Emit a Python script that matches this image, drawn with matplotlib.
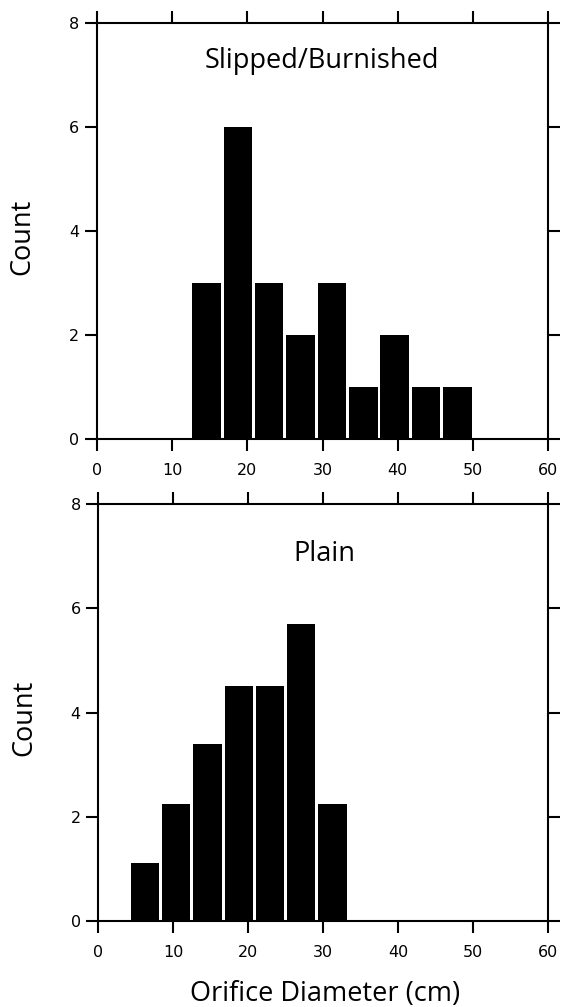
import matplotlib
matplotlib.use("Agg")
import matplotlib.pyplot as plt

# Orifice diameter histograms (cm); bins are 25/6 cm wide
bin_width = 25 / 6
slipped_left_edges = [12.5, 16.67, 20.83, 25.0, 29.17, 33.33, 37.5, 41.67, 45.83]
slipped_counts = [3, 6, 3, 2, 3, 1, 2, 1, 1]
plain_left_edges = [4.17, 8.33, 12.5, 16.67, 20.83, 25.0, 29.17]
plain_counts = [1.1, 2.25, 3.4, 4.5, 4.5, 5.7, 2.25]

x_ticks = [0, 10, 20, 30, 40, 50, 60]
y_ticks = [0, 2, 4, 6, 8]

label_font = "Open Sans"
tick_font = "DejaVu Sans"

fig = plt.figure(figsize=(5.63, 10.07), dpi=100)
ax_top = fig.add_axes([0.1718, 0.5641, 0.8021, 0.4134])
ax_bot = fig.add_axes([0.1746, 0.0857, 0.7982, 0.4135])


def draw_panel(ax, edges, counts, title, title_x, title_y):
    centers = [e + bin_width / 2 for e in edges]
    ax.bar(centers, counts, width=bin_width * 0.91, color="black",
           linewidth=0, zorder=1)
    ax.set_xlim(0, 60)
    ax.set_ylim(0, 8)
    ax.set_xticks(x_ticks)
    ax.set_yticks(y_ticks)
    for s in ax.spines.values():
        s.set_linewidth(1.5)
        s.set_color("black")
    ax.tick_params(direction="out", length=8.6, width=1.5, colors="black",
                   top=True, right=True, labeltop=False, labelright=False,
                   labelsize=11.5)
    ax.tick_params(axis="x", pad=9)
    ax.tick_params(axis="y", pad=4)
    for lab in ax.get_xticklabels() + ax.get_yticklabels():
        lab.set_fontfamily(tick_font)
    ax.text(title_x, title_y, title, transform=ax.transAxes, ha="center",
            va="baseline", fontsize=19.5, family=label_font)
    ax.text(-0.164, 0.486, "Count", transform=ax.transAxes, rotation=90,
            ha="center", va="center", fontsize=19.5, family=label_font)


draw_panel(ax_top, slipped_left_edges, slipped_counts, "Slipped/Burnished", 0.498, 0.891)
draw_panel(ax_bot, plain_left_edges, plain_counts, "Plain", 0.502, 0.8646)

fig.text(0.578, 0.006, "Orifice Diameter (cm)", ha="center", va="baseline",
         fontsize=19.5, family=label_font)

fig.savefig("out.png", dpi=100, facecolor="white")
